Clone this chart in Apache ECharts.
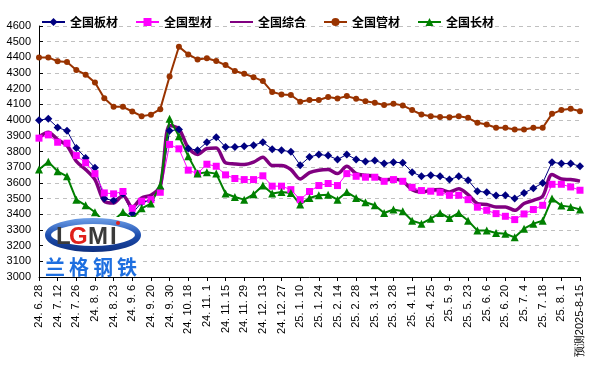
<!DOCTYPE html>
<html>
<head>
<meta charset="utf-8">
<script src="https://cdn.jsdelivr.net/npm/echarts@6/dist/echarts.min.js"></script>
<style>html,body{margin:0;padding:0;background:#fff}#c{width:594px;height:382px}</style>
</head>
<body>
<div id="c"></div>
<script>
var categories = [
 '24. 6. 28','24. 7. 5','24. 7. 12','24. 7. 19','24. 7. 26','24. 8. 2','24. 8. 9','24. 8. 16','24. 8. 23','24. 8. 30',
 '24. 9. 6','24. 9. 13','24. 9. 20','24. 9. 27','24. 9. 30','24. 10. 11','24. 10. 18','24. 10. 25','24. 11. 1','24. 11. 8',
 '24. 11. 15','24. 11. 22','24. 11. 29','24. 12. 6','24. 12. 13','24. 12. 20','24. 12. 27','25. 1. 3','25. 1. 10','25. 1. 17',
 '25. 1. 24','25. 2. 7','25. 2. 14','25. 2. 21','25. 2. 28','25. 3. 7','25. 3. 14','25. 3. 21','25. 3. 28','25. 4. 3',
 '25. 4. 11','25. 4. 18','25. 4. 25','25. 5. 2','25. 5. 9','25. 5. 16','25. 5. 23','25. 5. 30','25. 6. 6','25. 6. 13',
 '25. 6. 20','25. 6. 27','25. 7. 4','25. 7. 11','25. 7. 18','25. 7. 25','25. 8. 1','25. 8. 8','预测2025-8-15'
];
var plate = [4000,4008,3953,3932,3823,3759,3696,3500,3487,3530,3405,3475,3490,3560,3932,3940,3819,3808,3859,3891,
 3828,3828,3834,3840,3859,3815,3808,3798,3713,3765,3781,3774,3749,3781,3749,3736,3742,3723,3732,3728,
 3668,3642,3649,3642,3621,3642,3617,3547,3540,3519,3521,3500,3536,3566,3600,3732,3723,3723,3706];
var section = [3885,3906,3859,3853,3774,3728,3659,3536,3530,3545,3438,3483,3493,3540,3845,3817,3681,3659,3719,3706,
 3651,3628,3621,3621,3645,3579,3579,3557,3493,3545,3583,3596,3583,3659,3642,3636,3636,3610,3621,3610,
 3572,3551,3547,3540,3521,3521,3493,3445,3425,3404,3387,3366,3402,3430,3457,3591,3591,3574,3553];
var composite = [3894,3923,3876,3838,3738,3685,3621,3483,3472,3520,3445,3504,3521,3579,3965,3945,3823,3781,3819,3823,
 3728,3721,3717,3732,3764,3711,3711,3685,3625,3665,3681,3685,3659,3706,3659,3649,3642,3617,3625,3610,
 3557,3540,3553,3557,3542,3562,3525,3468,3462,3447,3447,3425,3468,3489,3515,3653,3625,3621,3611];
var pipe = [4400,4400,4375,4370,4320,4290,4240,4140,4085,4085,4055,4025,4035,4070,4278,4468,4419,4387,4394,4377,
 4351,4313,4296,4274,4249,4179,4164,4160,4117,4128,4128,4147,4138,4153,4136,4121,4111,4096,4104,4094,
 4064,4036,4025,4020,4019,4025,4015,3983,3972,3951,3951,3940,3940,3951,3951,4040,4064,4072,4057];
var longp = [3685,3734,3674,3642,3493,3457,3413,3350,3360,3415,3370,3438,3468,3583,4008,3898,3770,3659,3668,3659,
 3532,3510,3493,3527,3583,3532,3542,3536,3462,3504,3521,3525,3493,3542,3504,3476,3457,3408,3430,3419,
 3359,3340,3372,3408,3376,3408,3359,3296,3296,3281,3276,3253,3308,3340,3359,3500,3455,3447,3430];
var seriesNames = ['全国板材','全国型材','全国综合','全国管材','全国长材'];

var chart = echarts.init(document.getElementById('c'), null, {renderer:'canvas'});
chart.setOption({
  animation: false,
  backgroundColor: '#fff',
  legend: {
    data: [seriesNames[0], seriesNames[1], {name: seriesNames[2], itemStyle: {opacity: 0}}, seriesNames[3], seriesNames[4]],
    top: 11, left: 36,
    itemWidth: 23, itemHeight: 10, itemGap: 17,
    textStyle: {fontFamily: 'Noto Sans CJK SC', fontSize: 12, fontWeight: 'bold', color: '#000'}
  },
  grid: {left: 39, right: 14, top: 26, bottom: 105, containLabel: false},
  xAxis: {
    type: 'category', data: categories, boundaryGap: false,
    axisLine: {lineStyle: {color: '#000', width: 1}},
    axisTick: {show: true, interval: 1, length: 4, lineStyle: {color: '#000'}},
    axisLabel: {interval: 1, rotate: 90, margin: 8, color: '#000', fontFamily: 'Liberation Sans', fontSize: 11},
    splitLine: {show: false}
  },
  yAxis: {
    type: 'value', min: 3000, max: 4600, interval: 100,
    axisLine: {show: true, lineStyle: {color: '#000', width: 1}},
    axisTick: {show: true, inside: true, length: 4, lineStyle: {color: '#000'}},
    axisLabel: {color: '#000', fontFamily: 'Liberation Sans', fontSize: 11, margin: 8, formatter: function (v) { return String(v); }},
    splitLine: {show: true, lineStyle: {color: '#c0c0c0', type: [4, 4], width: 1}}
  },
  series: [
    {name: seriesNames[0], type: 'line', data: plate, color: '#000080', symbol: 'diamond', symbolSize: 8, showAllSymbol: true,
     lineStyle: {width: 1, color: '#000080'}, itemStyle: {color: '#000080'}},
    {name: seriesNames[1], type: 'line', data: section, color: '#ff00ff', symbol: 'rect', symbolSize: 7, showAllSymbol: true,
     lineStyle: {width: 1, color: '#ff00ff'}, itemStyle: {color: '#ff00ff'}},
    {name: seriesNames[2], type: 'line', data: composite, color: '#800080', symbol: 'none', smooth: 0.3,
     lineStyle: {width: 3.5, color: '#800080'}, itemStyle: {color: '#800080'}},
    {name: seriesNames[3], type: 'line', data: pipe, color: '#993300', symbol: 'circle', symbolSize: 6, showAllSymbol: true,
     lineStyle: {width: 2, color: '#993300'}, itemStyle: {color: '#993300'}},
    {name: seriesNames[4], type: 'line', data: longp, color: '#008000', symbol: 'triangle', symbolSize: 8, showAllSymbol: true,
     lineStyle: {width: 2, color: '#008000'}, itemStyle: {color: '#008000'}}
  ],
  graphic: [
    {type: 'rect', z: 100, shape: {x: 45, y: 217, width: 96, height: 59}, style: {fill: '#fff'}},
    {type: 'ellipse', z: 101, shape: {cx: 93, cy: 235, rx: 45, ry: 14},
     style: {fill: '#fff', lineWidth: 6,
       stroke: new echarts.graphic.LinearGradient(0, 0, 0, 1, [{offset: 0, color: '#6fa0e8'}, {offset: 0.5, color: '#1d4fb0'}, {offset: 1, color: '#0e2f80'}])}},
    {type: 'text', z: 102, x: 56, y: 237, style: {text: 'L', font: 'bold 24px "Liberation Sans"', fill: '#3a3a3a', verticalAlign: 'middle'}},
    {type: 'text', z: 102, x: 69, y: 237, style: {text: 'G', font: 'bold 24px "Liberation Sans"', fill: '#e0201a', verticalAlign: 'middle'}},
    {type: 'text', z: 102, x: 88, y: 237, style: {text: 'M', font: 'bold 24px "Liberation Sans"', fill: '#3a3a3a', verticalAlign: 'middle'}},
    {type: 'text', z: 102, x: 110, y: 237, style: {text: 'I', font: 'bold 24px "Liberation Sans"', fill: '#3a3a3a', verticalAlign: 'middle'}},
    {type: 'circle', z: 102, shape: {cx: 118, cy: 223, r: 2}, style: {fill: '#e0201a'}},
    {type: 'text', z: 102, x: 55, y: 267, style: {text: '兰', font: 'bold 20px "Noto Sans CJK SC"', fill: '#1e6fe0', align: 'center', verticalAlign: 'middle'}},
    {type: 'text', z: 102, x: 79, y: 267, style: {text: '格', font: 'bold 20px "Noto Sans CJK SC"', fill: '#1e6fe0', align: 'center', verticalAlign: 'middle'}},
    {type: 'text', z: 102, x: 103, y: 267, style: {text: '钢', font: 'bold 20px "Noto Sans CJK SC"', fill: '#1e6fe0', align: 'center', verticalAlign: 'middle'}},
    {type: 'text', z: 102, x: 127, y: 267, style: {text: '铁', font: 'bold 20px "Noto Sans CJK SC"', fill: '#1e6fe0', align: 'center', verticalAlign: 'middle'}}
  ]
});
</script>
</body>
</html>
